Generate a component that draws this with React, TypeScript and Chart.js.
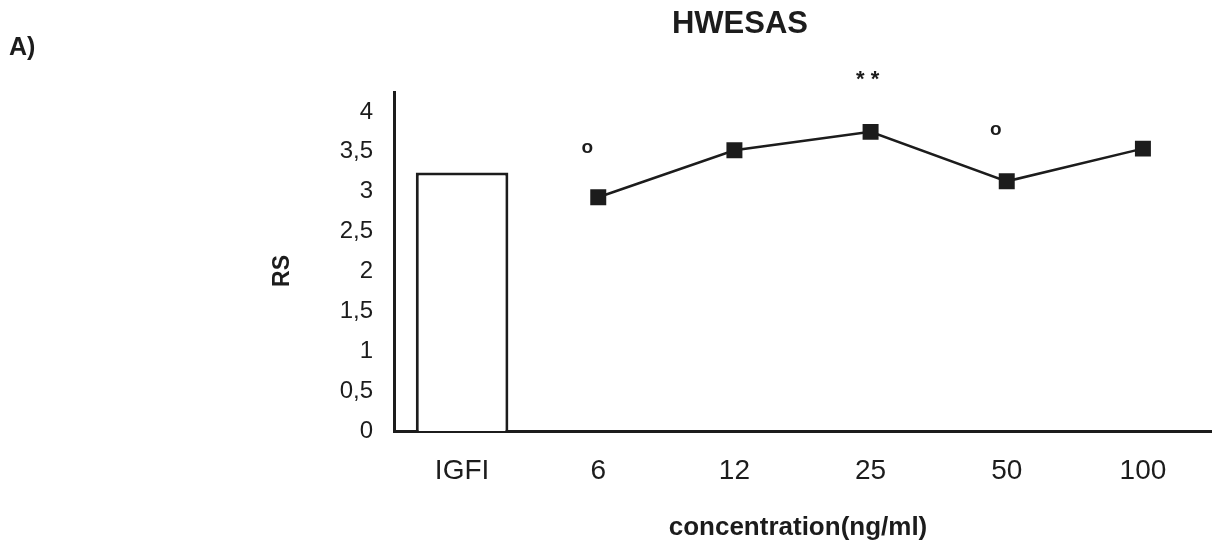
import React, { useEffect, useRef } from "react";
import { Chart, registerables } from "chart.js";

Chart.register(...registerables);

const categories = ["IGFI", "6", "12", "25", "50", "100"];
const igfiValues = [3.24, null, null, null, null, null];
const concentrationValues = [null, 2.93, 3.52, 3.75, 3.13, 3.54];
const yTickValues = [0, 0.5, 1, 1.5, 2, 2.5, 3, 3.5, 4];
const markTexts = ["", "o", "", "* *", "o", ""];
const markValues = [null, 3.51, null, 4.45, 3.74, null];

const titleText = "HWESAS";
const panelText = "A)";
const yTitleText = "RS";
const xTitleText = "concentration(ng/ml)";

const INK = "#1c1c1c";
const FONT = "'Liberation Sans', Arial, Helvetica, sans-serif";

const textPlugin = {
  id: "extraText",
  afterDraw(chart: any) {
    const ctx = chart.ctx;
    const xs = chart.scales.x;
    const ys = chart.scales.y;
    ctx.save();
    ctx.fillStyle = INK;
    ctx.textAlign = "center";
    ctx.textBaseline = "middle";

    ctx.font = `bold 31px ${FONT}`;
    ctx.fillText(titleText, 740, 24);

    ctx.textAlign = "left";
    ctx.font = `bold 25px ${FONT}`;
    ctx.fillText(panelText, 9, 48);

    ctx.textAlign = "center";
    ctx.font = `bold 26px ${FONT}`;
    ctx.fillText(xTitleText, 798, 528);

    ctx.save();
    ctx.translate(283, 271);
    ctx.rotate(-Math.PI / 2);
    ctx.font = `bold 23px ${FONT}`;
    ctx.fillText(yTitleText, 0, 0);
    ctx.restore();

    markTexts.forEach((t, i) => {
      const v = markValues[i];
      if (!t || v == null) return;
      const isRing = t === "o";
      const x = xs.getPixelForValue(i) + (isRing ? -11 : -3);
      const y = ys.getPixelForValue(v);
      ctx.font = isRing ? `bold 19px ${FONT}` : `bold 22px ${FONT}`;
      ctx.fillText(t, x, isRing ? y - 3 : y + 4);
    });
    ctx.restore();
  },
};

export default function App() {
  const ref = useRef<HTMLCanvasElement>(null);

  useEffect(() => {
    document.body.style.margin = "0";
    document.body.style.background = "#ffffff";
    const canvas = ref.current;
    if (!canvas) return;
    const chart = new Chart(canvas, {
      type: "bar",
      data: {
        labels: categories,
        datasets: [
          {
            type: "bar",
            label: "IGFI",
            data: igfiValues as any,
            backgroundColor: "#ffffff",
            borderColor: INK,
            borderWidth: 3,
            barPercentage: 0.68,
            categoryPercentage: 1,
            order: 2,
          },
          {
            type: "line",
            label: "concentration",
            data: concentrationValues as any,
            borderColor: INK,
            borderWidth: 2.5,
            pointStyle: "rect",
            pointRadius: 11.3,
            pointBackgroundColor: INK,
            pointBorderColor: INK,
            pointBorderWidth: 0,
            tension: 0,
            order: 1,
          } as any,
        ],
      },
      options: {
        animation: false,
        responsive: false,
        maintainAspectRatio: false,
        layout: { autoPadding: false, padding: { top: 92, left: 0, right: 4, bottom: 0 } },
        plugins: {
          legend: { display: false },
          tooltip: { enabled: false },
          title: { display: false },
        },
        scales: {
          x: {
            type: "category",
            offset: true,
            grid: { display: false, drawTicks: false },
            border: { display: true, color: INK, width: 3 },
            ticks: {
              color: INK,
              font: { size: 28, family: FONT },
              padding: 23,
              maxRotation: 0,
              autoSkip: false,
            },
            afterFit(scale: any) {
              scale.height = 118;
              scale.paddingLeft = 0;
              scale.paddingRight = 0;
            },
          },
          y: {
            type: "linear",
            min: 0,
            max: 4.25,
            grid: { display: false, drawTicks: false },
            border: { display: true, color: INK, width: 3 },
            afterBuildTicks(scale: any) {
              scale.ticks = yTickValues.map((v) => ({ value: v }));
            },
            ticks: {
              color: INK,
              font: { size: 24, family: FONT },
              padding: 21,
              callback: (v: any) => String(v).replace(".", ","),
            },
            afterFit(scale: any) {
              scale.width = 394;
              scale.paddingTop = 0;
              scale.paddingBottom = 0;
            },
          },
        },
      },
      plugins: [textPlugin],
    });
    return () => chart.destroy();
  }, []);

  return (
    <div style={{ position: "relative", width: 1215, height: 549 }}>
      <canvas ref={ref} width={1215} height={549} style={{ display: "block", width: 1215, height: 549 }} />
    </div>
  );
}
